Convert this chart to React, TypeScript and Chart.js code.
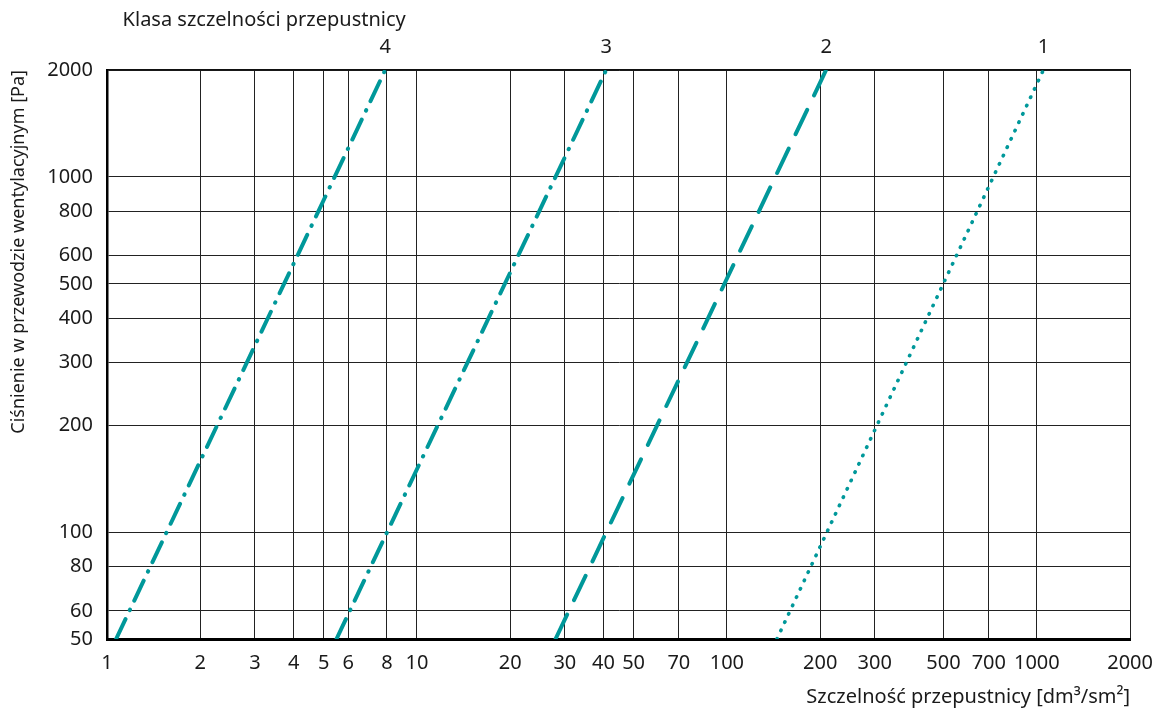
import React, { useEffect, useRef } from "react";
import { Chart, registerables } from "chart.js";

Chart.register(...registerables);

// Tick values
const xTicks = [1, 2, 3, 4, 5, 6, 8, 10, 20, 30, 40, 50, 70, 100, 200, 300, 500, 700, 1000, 2000];
const yTicks = [50, 60, 80, 100, 200, 300, 400, 500, 600, 800, 1000, 2000];

// Pressure range of every class line [Pa]
const pressure = [50, 2000];
// Leakage (x) of each class at those pressures
const class4 = [1.07, 7.9];
const class3 = [5.5, 40.8];
const class2 = [28, 209];
const class1 = [145, 1050];

const classNames = ["4", "3", "2", "1"];

const TEAL = "#00989a";
const FONT = "Noto Sans";

export default function App() {
  const ref = useRef<HTMLCanvasElement>(null);

  useEffect(() => {
    const canvas = ref.current;
    if (!canvas) return;
    const mk = (xs: number[]) => xs.map((x, i) => ({ x, y: pressure[i] }));
    const series = [class4, class3, class2, class1];
    const topTicks = series.map((s) => s[s.length - 1]);
    const dashes = [
      [22, 10, 0.5, 10],
      [22, 10, 0.5, 10],
      [27, 16],
      [0.5, 8.7],
    ];
    const widths = [4, 4, 4, 3.6];

    const chart = new Chart(canvas, {
      type: "line",
      data: {
        datasets: series.map((s, i) => ({
          label: "Klasa " + classNames[i],
          data: mk(s),
          borderColor: TEAL,
          borderWidth: widths[i],
          borderDash: dashes[i],
          borderCapStyle: "round",
          pointRadius: 0,
          fill: false,
          tension: 0,
        })),
      },
      options: {
        animation: false,
        responsive: true,
        maintainAspectRatio: false,
        layout: { padding: { left: 0, right: 34, top: 0, bottom: 0 } },
        plugins: { legend: { display: false }, tooltip: { enabled: false }, title: { display: false } },
        font: { family: FONT },
        scales: {
          x: {
            type: "logarithmic",
            position: "bottom",
            min: 1,
            max: 2000,
            afterBuildTicks: (s: any) => {
              s.ticks = xTicks.map((v) => ({ value: v }));
            },
            afterFit: (s: any) => {
              s.height = 72;
            },
            ticks: {
              autoSkip: false,
              maxRotation: 0,
              minRotation: 0,
              padding: 12,
              color: "#1a1a1a",
              font: { family: FONT, size: 20 },
              callback: (v: any) => String(v),
            },
            grid: { color: "#222", lineWidth: 1, drawTicks: false },
            border: { display: true, color: "#000", width: 3 },
            title: {
              display: true,
              text: "Szczelność przepustnicy [dm³/sm²]",
              align: "end",
              color: "#1a1a1a",
              font: { family: FONT, size: 20 },
              padding: { top: 0, bottom: 2 },
            },
          },
          xTop: {
            type: "logarithmic",
            position: "top",
            min: 1,
            max: 2000,
            afterBuildTicks: (s: any) => {
              s.ticks = topTicks.map((v) => ({ value: v }));
            },
            afterFit: (s: any) => {
              s.height = 70;
            },
            ticks: {
              autoSkip: false,
              maxRotation: 0,
              minRotation: 0,
              padding: 11,
              color: "#1a1a1a",
              font: { family: FONT, size: 20 },
              callback: (v: any) => {
                const i = topTicks.indexOf(Number(v));
                return i >= 0 ? classNames[i] : "";
              },
            },
            grid: { display: false, drawTicks: false },
            border: { display: true, color: "#111", width: 1.5 },
            title: {
              display: true,
              text: "   Klasa szczelności przepustnicy",
              align: "start",
              color: "#1a1a1a",
              font: { family: FONT, size: 20 },
              padding: { top: 8, bottom: 0 },
            },
          },
          y: {
            type: "logarithmic",
            position: "left",
            min: 50,
            max: 2000,
            afterBuildTicks: (s: any) => {
              s.ticks = yTicks.map((v) => ({ value: v }));
            },
            afterFit: (s: any) => {
              s.width = 107;
            },
            ticks: {
              autoSkip: false,
              padding: 14,
              color: "#1a1a1a",
              font: { family: FONT, size: 20 },
              callback: (v: any) => String(v),
            },
            grid: { color: "#222", lineWidth: 1, drawTicks: false },
            border: { display: true, color: "#000", width: 2.5 },
            title: {
              display: true,
              text: "Ciśnienie w przewodzie wentylacyjnym [Pa]",
              align: "end",
              color: "#1a1a1a",
              font: { family: FONT, size: 18 },
              padding: { top: 8, bottom: 0 },
            },
          },
        },
      } as any,
    });
    return () => chart.destroy();
  }, []);

  return (
    <div style={{ position: "fixed", left: 0, top: 0, width: 1165, height: 711, background: "#fff" }}>
      <canvas ref={ref} />
    </div>
  );
}
